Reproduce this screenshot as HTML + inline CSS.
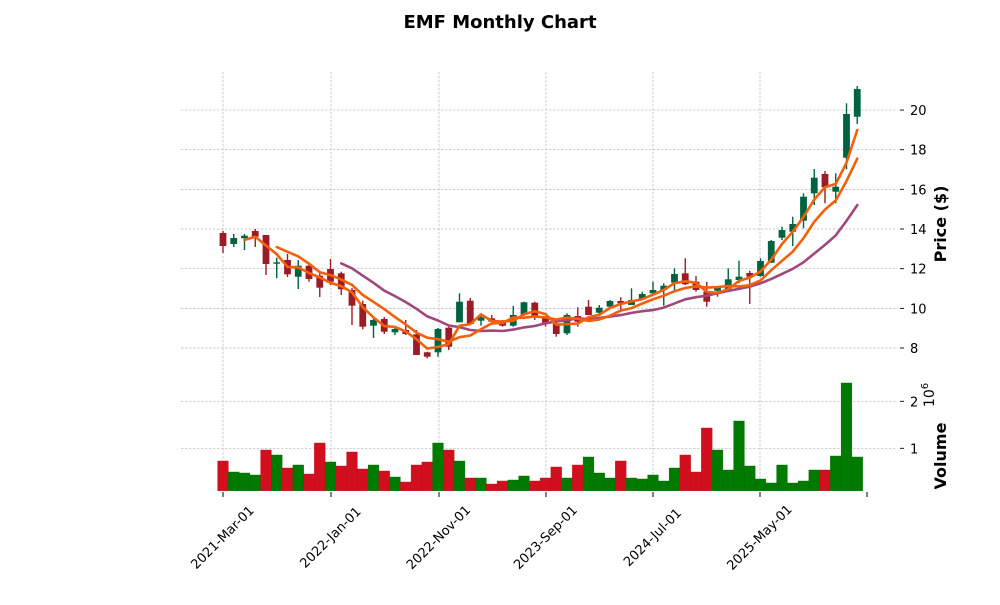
<!DOCTYPE html>
<html><head><meta charset="utf-8">
<style>
body{margin:0;background:#fff;width:1000px;height:600px;overflow:hidden;}
svg text{font-family:"DejaVu Sans","Liberation Sans",sans-serif;}
</style></head>
<body>
<svg id="s" width="1000" height="600" xmlns="http://www.w3.org/2000/svg">
<text x="500" y="28" text-anchor="middle" font-size="18" font-weight="bold">EMF Monthly Chart</text>
<g id="grid" stroke="#b8b8b8" stroke-width="0.7" stroke-dasharray="2.5,1.5"></g>
<g id="vol"></g>
<g id="candles"></g>
<g id="ma" fill="none" stroke-linejoin="round" stroke-linecap="round"></g>
<g id="axes" font-size="13" fill="#000"></g>
<text transform="translate(946,224) rotate(-90)" text-anchor="middle" font-size="16" font-weight="bold">Price ($)</text>
<text transform="translate(946,456) rotate(-90)" text-anchor="middle" font-size="16" font-weight="bold">Volume</text>
<text transform="translate(934,395) rotate(-90)" text-anchor="middle" font-size="14">10<tspan dy="-6" font-size="10">6</tspan></text>
</svg>
<script>
const NS="http://www.w3.org/2000/svg";
function el(p,t,a,txt){const e=document.createElementNS(NS,t);for(const k in a)e.setAttribute(k,a[k]);if(txt!==undefined)e.textContent=txt;document.getElementById(p).appendChild(e);return e;}
const X=i=>223+10.75*i;
const C=[
[233,246,231,253,0],[238,244,234,247,1],[235.7,238.3,234,250,1],[231,236.7,229,247,0],
[235,264,235,275,0],[262.3,263.7,257.7,278.3,1],[260,274.3,254,277,0],[265.7,276.7,260,289,1],
[265.7,279,263,281.7,0],[275.7,287.7,273,297,0],[269,281.7,259,285,0],[273.3,289.3,271.7,295,0],
[290,305.7,288,325,0],[304,326.7,300.7,329.3,0],[320,325.7,319,338,1],[319,331.7,317,334,0],
[329,332.3,326.7,335,1],[330,334,320,335,0],[334.3,355,330,355,0],[352.3,356.7,351.7,358.3,0],
[329,352.3,328,356.7,1],[327.7,346.7,326.7,350,0],[301.7,322.3,293.3,322.3,1],[300.7,324,298,325,0],
[317.3,320.7,315,325.7,1],[318.3,321.7,315,323.3,0],[321.7,325.7,320,326.7,0],[315,325.7,306,326.7,1],
[302.3,315,301.7,316,1],[302.7,316.7,301.7,320,0],[316.7,323.3,316,326.7,0],[323.3,334,321.7,336.7,0],
[315,333.3,313.3,335,1],[316,321.7,307.3,326.7,0],[306.7,315,300,315,0],[307.7,312.7,305,315,1],
[301,306.7,300,308.3,1],[301,303.3,297.3,311.7,0],[300,305,288.3,305,1],[294,299.3,291.7,300,1],
[290,293.3,281.7,295,1],[285.7,290,283.3,305.7,1],[274,282.7,268.3,292.7,1],[273.3,284.3,258.3,285,0],
[281.7,290,276,291.7,0],[291.7,301.7,281.7,306.7,0],[286.7,290.7,286.7,296.7,1],[279.3,290,268.3,290,1],
[276.7,280,260.7,283.3,1],[273,276.7,270.7,304,0],[261,276,258.3,276.7,1],[241,262.7,240,263,1],
[230,237.7,226.7,240,1],[224,231.7,216.7,246,1],[196.7,220.7,193.3,228.3,1],[177.7,193.3,169,205,1],
[174,187.3,171,203.3,0],[186.7,191.7,173.3,203.3,1],[114,157.7,103.3,169.3,1],[89,116.7,86,124,1]];
const V=[[273,0],[306,1],[309,1],[315,1],[240,0],[255,1],[294,0],[285,1],[312,0],[219,0],[276,1],[288,0],[246,0],[297,0],[285,1],[303,0],[321,1],[336,0],[285,0],[276,0],[219,1],[240,0],[273,1],[324,0],[324,1],[342,0],[333,0],[330,1],[318,1],[333,0],[324,0],[291,0],[324,1],[285,0],[261,1],[309,1],[324,1],[273,0],[324,1],[327,1],[315,1],[333,1],[294,1],[255,0],[306,0],[174,0],[240,1],[300,1],[153,1],[288,1],[327,1],[339,1],[285,1],[339,1],[333,1],[300,1],[300,0],[258,1],[39,1],[261,1]];
const ticks=[223,331,439,546,653,760];
ticks.forEach(x=>{el("grid","line",{x1:x,x2:x,y1:72,y2:492});});
const py=p=>348-(p-8)*19.83;
function ytick(y,lab){el("grid","line",{x1:181,x2:898,y1:y,y2:y});el("axes","line",{x1:900,x2:904,y1:y,y2:y,stroke:"#000","stroke-width":0.9});el("axes","text",{x:910,y:y+5},lab);}
[8,10,12,14,16,18,20].forEach(p=>ytick(py(p),String(p)));
ytick(448.3,"1");ytick(401.3,"2");
V.forEach(([z,u],i)=>{const t=370+z/3;el("vol","rect",{x:X(i)-5.375,y:t,width:10.75,height:490.7-t,fill:u?"#007a00":"#d20f1e",stroke:u?"#006a00":"#b80c18","stroke-width":0.4});});
C.forEach(([t,b,h,l,u],i)=>{const c=u?"#006340":"#9b1c27";const x=X(i);
el("candles","line",{x1:x,x2:x,y1:h,y2:l,stroke:c,"stroke-width":1.4});
el("candles","rect",{x:x-3.4,y:t,width:6.8,height:Math.max(b-t,1.2),fill:c});});
const close=C.map(c=>c[4]?c[0]:c[1]);
function ma(n,col){let pts=[];for(let i=n-1;i<close.length;i++){let s=0;for(let k=0;k<n;k++)s+=close[i-k];pts.push(X(i).toFixed(1)+","+(s/n).toFixed(1));}
el("ma","polyline",{points:pts.join(" "),stroke:col,"stroke-width":2.6});}
ma(12,"#a0487c");ma(6,"#f2600c");ma(3,"#f2600c");
const labs=["2021-Mar-01","2022-Jan-01","2022-Nov-01","2023-Sep-01","2024-Jul-01","2025-May-01"];
[...ticks,867].forEach(x=>el("axes","line",{x1:x,x2:x,y1:492,y2:497,stroke:"#000","stroke-width":1}));
ticks.forEach((x,i)=>{el("axes","text",{transform:`translate(${x},${538}) rotate(-45)`,"text-anchor":"middle","dominant-baseline":"middle"},labs[i]);});
</script>
</body></html>
